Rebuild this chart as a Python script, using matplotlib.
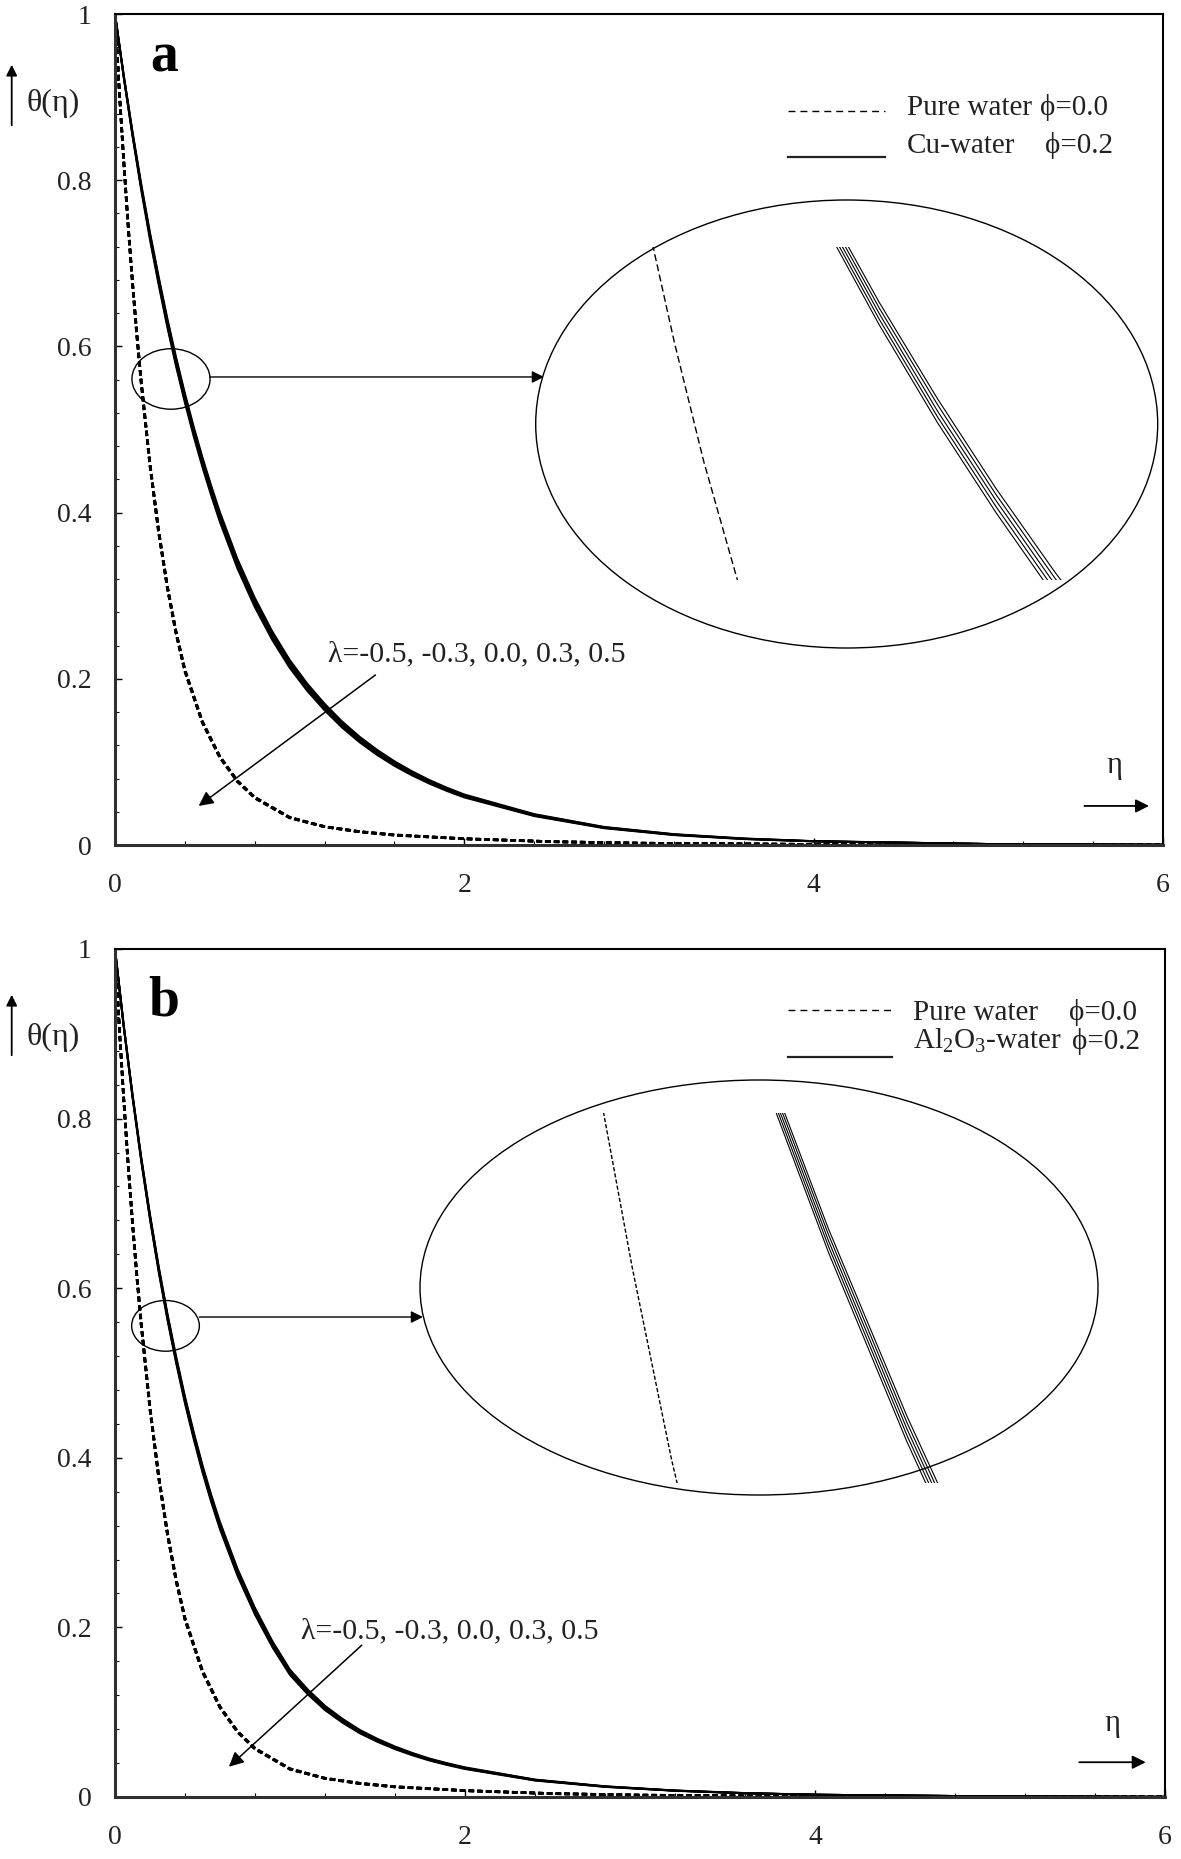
import matplotlib
matplotlib.use("Agg")
import matplotlib.pyplot as plt
from matplotlib.patches import Ellipse, FancyArrowPatch
from matplotlib.lines import Line2D
from matplotlib.ticker import MultipleLocator, FixedLocator, FixedFormatter

plt.rcParams["font.family"] = ["Liberation Serif", "DejaVu Serif"]
plt.rcParams["mathtext.fontset"] = "custom"
plt.rcParams["mathtext.rm"] = "Liberation Serif"
plt.rcParams["mathtext.it"] = "Liberation Serif:italic"
plt.rcParams["mathtext.bf"] = "Liberation Serif:bold"

# ---------------- data ----------------
lambdas = [-0.5, -0.3, 0.0, 0.3, 0.5]

eta_nf = [0, 0.05, 0.1, 0.15, 0.2, 0.25, 0.3, 0.35, 0.4, 0.45, 0.5, 0.55, 0.6, 0.7, 0.8, 0.9, 1.0,
          1.1, 1.2, 1.3, 1.4, 1.5, 1.6, 1.7, 1.8, 1.9, 2.0, 2.4, 2.8, 3.2, 3.6, 4.0, 5.0, 6.0]
eta_w = [0, 0.025, 0.05, 0.075, 0.1, 0.125, 0.15, 0.2, 0.25, 0.3, 0.35, 0.4,
         0.5, 0.6, 0.7, 0.8, 1.0, 1.2, 1.4, 1.6, 2.0, 2.5, 3.0, 4.0, 5.0, 6.0]

# Cu-water, phi = 0.2 (panel a), one row per lambda
theta_cu = [
    [1.0, 0.9266, 0.8588, 0.7958, 0.7374, 0.6840, 0.6334, 0.5869, 0.5438, 0.5039, 0.4670, 0.4330, 0.4010,
     0.3448, 0.2976, 0.2572, 0.2228, 0.1944, 0.1700, 0.1487, 0.1304, 0.1146, 0.1008, 0.0888, 0.0782, 0.0690,
     0.0608, 0.0372, 0.0218, 0.0131, 0.0079, 0.0047, 0.0012, 0.0003],
    [1.0, 0.9258, 0.8574, 0.7939, 0.7352, 0.6815, 0.6307, 0.5841, 0.5409, 0.5010, 0.4640, 0.4300, 0.3980,
     0.3419, 0.2948, 0.2546, 0.2204, 0.1922, 0.1680, 0.1469, 0.1287, 0.1131, 0.0994, 0.0876, 0.0771, 0.0680,
     0.0599, 0.0366, 0.0214, 0.0128, 0.0077, 0.0046, 0.0012, 0.0003],
    [1.0, 0.9250, 0.8560, 0.7920, 0.7330, 0.6790, 0.6280, 0.5810, 0.5380, 0.4980, 0.4610, 0.4270, 0.3950,
     0.3390, 0.2920, 0.2520, 0.2180, 0.1900, 0.1660, 0.1450, 0.1270, 0.1115, 0.0980, 0.0863, 0.0760, 0.0670,
     0.0590, 0.0360, 0.0210, 0.0125, 0.0075, 0.0045, 0.0012, 0.0003],
    [1.0, 0.9242, 0.8546, 0.7901, 0.7308, 0.6765, 0.6253, 0.5782, 0.5351, 0.4951, 0.4580, 0.4240, 0.3920,
     0.3361, 0.2892, 0.2494, 0.2156, 0.1878, 0.1640, 0.1432, 0.1253, 0.1100, 0.0966, 0.0851, 0.0749, 0.0660,
     0.0581, 0.0354, 0.0206, 0.0122, 0.0073, 0.0044, 0.0012, 0.0003],
    [1.0, 0.9234, 0.8532, 0.7882, 0.7286, 0.6740, 0.6226, 0.5754, 0.5322, 0.4921, 0.4550, 0.4210, 0.3890,
     0.3332, 0.2864, 0.2468, 0.2132, 0.1856, 0.1620, 0.1413, 0.1236, 0.1084, 0.0952, 0.0838, 0.0738, 0.0650,
     0.0572, 0.0348, 0.0202, 0.0119, 0.0071, 0.0043, 0.0012, 0.0003],
]

# Al2O3-water, phi = 0.2 (panel b)
theta_al = [
    [1.0, 0.9102, 0.8290, 0.7546, 0.6872, 0.6255, 0.5698, 0.5190, 0.4722, 0.4303, 0.3914, 0.3564, 0.3244,
     0.2692, 0.2230, 0.1836, 0.1502, 0.1271, 0.1076, 0.0922, 0.0790, 0.0686, 0.0596, 0.0519, 0.0452, 0.0398,
     0.0350, 0.0206, 0.0127, 0.0077, 0.0047, 0.0027, 0.0008, 0.0002],
    [1.0, 0.9096, 0.8280, 0.7533, 0.6856, 0.6238, 0.5679, 0.5170, 0.4701, 0.4282, 0.3892, 0.3542, 0.3222,
     0.2671, 0.2210, 0.1818, 0.1486, 0.1257, 0.1063, 0.0911, 0.0780, 0.0677, 0.0588, 0.0512, 0.0446, 0.0393,
     0.0345, 0.0203, 0.0125, 0.0076, 0.0046, 0.0027, 0.0008, 0.0002],
    [1.0, 0.9090, 0.8270, 0.7520, 0.6840, 0.6220, 0.5660, 0.5150, 0.4680, 0.4260, 0.3870, 0.3520, 0.3200,
     0.2650, 0.2190, 0.1800, 0.1470, 0.1242, 0.1050, 0.0899, 0.0770, 0.0668, 0.0580, 0.0505, 0.0440, 0.0387,
     0.0340, 0.0200, 0.0123, 0.0075, 0.0045, 0.0027, 0.0008, 0.0002],
    [1.0, 0.9084, 0.8260, 0.7507, 0.6824, 0.6203, 0.5641, 0.5130, 0.4659, 0.4239, 0.3848, 0.3498, 0.3178,
     0.2629, 0.2170, 0.1782, 0.1454, 0.1228, 0.1037, 0.0888, 0.0760, 0.0659, 0.0572, 0.0498, 0.0434, 0.0382,
     0.0335, 0.0197, 0.0121, 0.0074, 0.0044, 0.0027, 0.0008, 0.0002],
    [1.0, 0.9078, 0.8250, 0.7494, 0.6808, 0.6185, 0.5622, 0.5110, 0.4638, 0.4217, 0.3826, 0.3476, 0.3156,
     0.2608, 0.2150, 0.1764, 0.1438, 0.1213, 0.1024, 0.0876, 0.0750, 0.0650, 0.0564, 0.0491, 0.0428, 0.0376,
     0.0330, 0.0194, 0.0119, 0.0073, 0.0043, 0.0027, 0.0008, 0.0002],
]

# Pure water, phi = 0.0 (both panels)
theta_water = [
    [1.0, 0.9066, 0.8240, 0.7472, 0.6784, 0.6156, 0.5586, 0.4596, 0.3786, 0.3114, 0.2564, 0.2112, 0.1490,
     0.1068, 0.0776, 0.0576, 0.0334, 0.0222, 0.0162, 0.0122, 0.0075, 0.0040, 0.0022, 0.0007, 0.0002, 0.0],
    [1.0, 0.9063, 0.8235, 0.7466, 0.6777, 0.6148, 0.5578, 0.4588, 0.3778, 0.3107, 0.2557, 0.2106, 0.1485,
     0.1064, 0.0773, 0.0573, 0.0332, 0.0221, 0.0161, 0.0121, 0.0075, 0.0040, 0.0022, 0.0007, 0.0002, 0.0],
    [1.0, 0.9060, 0.8230, 0.7460, 0.6770, 0.6140, 0.5570, 0.4580, 0.3770, 0.3100, 0.2550, 0.2100, 0.1480,
     0.1060, 0.0770, 0.0570, 0.0330, 0.0220, 0.0160, 0.0120, 0.0075, 0.0040, 0.0022, 0.0007, 0.0002, 0.0],
    [1.0, 0.9057, 0.8225, 0.7454, 0.6763, 0.6132, 0.5562, 0.4572, 0.3762, 0.3093, 0.2543, 0.2094, 0.1475,
     0.1056, 0.0767, 0.0567, 0.0328, 0.0219, 0.0159, 0.0119, 0.0075, 0.0040, 0.0022, 0.0007, 0.0002, 0.0],
    [1.0, 0.9054, 0.8220, 0.7448, 0.6756, 0.6124, 0.5554, 0.4564, 0.3754, 0.3086, 0.2536, 0.2088, 0.1470,
     0.1052, 0.0764, 0.0564, 0.0326, 0.0218, 0.0158, 0.0118, 0.0075, 0.0040, 0.0022, 0.0007, 0.0002, 0.0],
]

x_ticks = [0, 2, 4, 6]
x_tick_labels = ["0", "2", "4", "6"]
y_ticks = [0, 0.2, 0.4, 0.6, 0.8, 1.0]
y_tick_labels = ["0", "0.2", "0.4", "0.6", "0.8", "1"]
lambda_text = "λ=-0.5, -0.3, 0.0, 0.3, 0.5"

# ---------------- layout ----------------
W, H = 1181, 1859
fig = plt.figure(figsize=(W / 100, H / 100), dpi=100)


def fxy(x, y):
    return (x / W, 1 - y / H)


def box(x0, y0, x1, y1):
    return [x0 / W, 1 - y1 / H, (x1 - x0) / W, (y1 - y0) / H]


panels = [
    dict(letter="a", ax_box=(115, 14, 1163, 845), nf=theta_cu,
         names=("Pure water", "Cu-water"), phis=("ϕ=0.0", "ϕ=0.2"),
         name_xy=((907, 115), (907, 153)), phi_right=(1108, 1113),
         leg_x=(788, 885), leg_y=(111, 157),
         letter_xy=(164, 72), ylab_y=103, yarrow=(128, 62),
         small_ell=((0.3206, 0.5608), 0.447, 0.0728),
         pointer=((0.5438, 0.5632), (2.456, 0.5632)),
         big_ell=((846.7, 424), 622, 448),
         inset_box=(535, 247, 1157, 580), inset_xlim=(0.0058, 0.5374), inset_ylim=(0.50, 0.66),
         lam_text=(1.218, 0.229), lam_arrow=((1.491, 0.2046), (0.479, 0.047)),
         eta_text=(5.72, 0.096), eta_arrow=((5.55, 0.047), (5.92, 0.047)),
         inset_dash=(0, (5, 2.5))),
    dict(letter="b", ax_box=(115, 949, 1165, 1797), nf=theta_al,
         names=("Pure water", "Al$_\\mathregular{2}$O$_\\mathregular{3}$-water"), phis=("ϕ=0.0", "ϕ=0.2"),
         name_xy=((913, 1020), (913, 1049)), phi_right=(1137, 1140),
         leg_x=(788, 892), leg_y=(1010, 1057),
         letter_xy=(164, 1015), ylab_y=1037, yarrow=(1058, 992),
         small_ell=((0.2886, 0.5556), 0.3869, 0.0598),
         pointer=((0.482, 0.566), (1.76, 0.566)),
         big_ell=((759, 1287.5), 678, 415),
         inset_box=(420, 1113, 1100, 1483), inset_xlim=(-0.0102, 0.4229), inset_ylim=(0.55, 0.66),
         lam_text=(1.063, 0.195), lam_arrow=((1.41, 0.179), (0.651, 0.0357)),
         eta_text=(5.70, 0.087), eta_arrow=((5.51, 0.041), (5.89, 0.041)),
         inset_dash=(0, (3, 1.5))),
]

FS = 20
TXT = "#222222"
for p in panels:
    ax = fig.add_axes(box(*p["ax_box"]))
    ax.set_xlim(0, 6)
    ax.set_ylim(0, 1)
    ax.xaxis.set_major_locator(FixedLocator(x_ticks))
    ax.xaxis.set_major_formatter(FixedFormatter(x_tick_labels))
    ax.yaxis.set_major_locator(FixedLocator(y_ticks))
    ax.yaxis.set_major_formatter(FixedFormatter(y_tick_labels))
    ax.xaxis.set_minor_locator(MultipleLocator(0.4))
    ax.yaxis.set_minor_locator(MultipleLocator(0.04))
    ax.tick_params(which="both", direction="in", top=False, right=False)
    ax.tick_params(which="major", length=5, width=1.0, labelsize=FS, labelcolor=TXT)
    ax.tick_params(which="minor", length=3, width=0.8)
    ax.tick_params(axis="x", which="major", pad=20)
    ax.tick_params(axis="y", which="major", pad=17)
    for s in ("left", "bottom"):
        ax.spines[s].set_linewidth(2.2)
        ax.spines[s].set_color("#303030")
    for s in ("top", "right"):
        ax.spines[s].set_linewidth(1.5)
        ax.spines[s].set_color("k")

    # curves (one per lambda)
    for lam, row in zip(lambdas, theta_water):
        ax.plot(eta_w, row, color="k", lw=1.9, linestyle=(0, (2.0, 1.3)))
    for lam, row in zip(lambdas, p["nf"]):
        ax.plot(eta_nf, row, color="k", lw=1.4, solid_capstyle="butt")

    # small ellipse + pointer
    c, w, h = p["small_ell"]
    ax.add_patch(Ellipse(c, w, h, fill=False, lw=1.0, ec="k"))
    ax.annotate("", xy=p["pointer"][1], xytext=p["pointer"][0],
                arrowprops=dict(arrowstyle="-|>", lw=1.0, color="k", mutation_scale=18,
                                shrinkA=0, shrinkB=0))

    # lambda annotation
    ax.text(*p["lam_text"], lambda_text, fontsize=21.5, ha="left", va="center", color=TXT)
    ax.annotate("", xy=p["lam_arrow"][1], xytext=p["lam_arrow"][0],
                arrowprops=dict(arrowstyle="-|>", lw=1.1, color="k", mutation_scale=22,
                                shrinkA=0, shrinkB=0))

    # eta axis label + arrow
    ax.text(*p["eta_text"], "η", fontsize=22, ha="center", va="center", color=TXT)
    ax.annotate("", xy=p["eta_arrow"][1], xytext=p["eta_arrow"][0],
                arrowprops=dict(arrowstyle="-|>", lw=1.3, color="k", mutation_scale=20,
                                shrinkA=0, shrinkB=0))

    # theta label + up arrow
    fig.text(*fxy(27, p["ylab_y"]), "θ(η)", fontsize=23, ha="left", va="center", color=TXT)
    fig.add_artist(FancyArrowPatch(fxy(11.7, p["yarrow"][0]), fxy(11.7, p["yarrow"][1]),
                                   transform=fig.transFigure, arrowstyle="-|>",
                                   mutation_scale=16, lw=1.3, color="k"))

    # panel letter
    fig.text(*fxy(*p["letter_xy"]), p["letter"], fontsize=40, fontweight="bold",
             ha="center", va="baseline")

    # legend
    lx0, lx1 = p["leg_x"]
    fig.add_artist(Line2D([lx0 / W, lx1 / W], [1 - p["leg_y"][0] / H] * 2, transform=fig.transFigure,
                          color="k", lw=1.0, linestyle=(0, (5, 3.6))))
    fig.add_artist(Line2D([lx0 / W, lx1 / W], [1 - p["leg_y"][1] / H] * 2, transform=fig.transFigure,
                          color=TXT, lw=1.6))
    for (nx, ny), name, prx, phi in zip(p["name_xy"], p["names"], p["phi_right"], p["phis"]):
        fig.text(*fxy(nx, ny), name, fontsize=21, ha="left", va="baseline", color=TXT)
        fig.text(*fxy(prx, ny), phi, fontsize=21, ha="right", va="baseline", color=TXT)

    # big ellipse (magnified view)
    (ecx, ecy), ew, eh = p["big_ell"]
    fig.add_artist(Ellipse(fxy(ecx, ecy), ew / W, eh / H, transform=fig.transFigure,
                           fill=False, lw=1.0, ec="k"))
    ia = fig.add_axes(box(*p["inset_box"]))
    ia.set_xlim(*p["inset_xlim"])
    ia.set_ylim(*p["inset_ylim"])
    ia.axis("off")
    ia.plot(eta_w, theta_water[2], color="k", lw=1.0, linestyle=p["inset_dash"])
    for row in p["nf"]:
        ia.plot(eta_nf, row, color="k", lw=0.8)

fig.savefig("out.png", dpi=100)
